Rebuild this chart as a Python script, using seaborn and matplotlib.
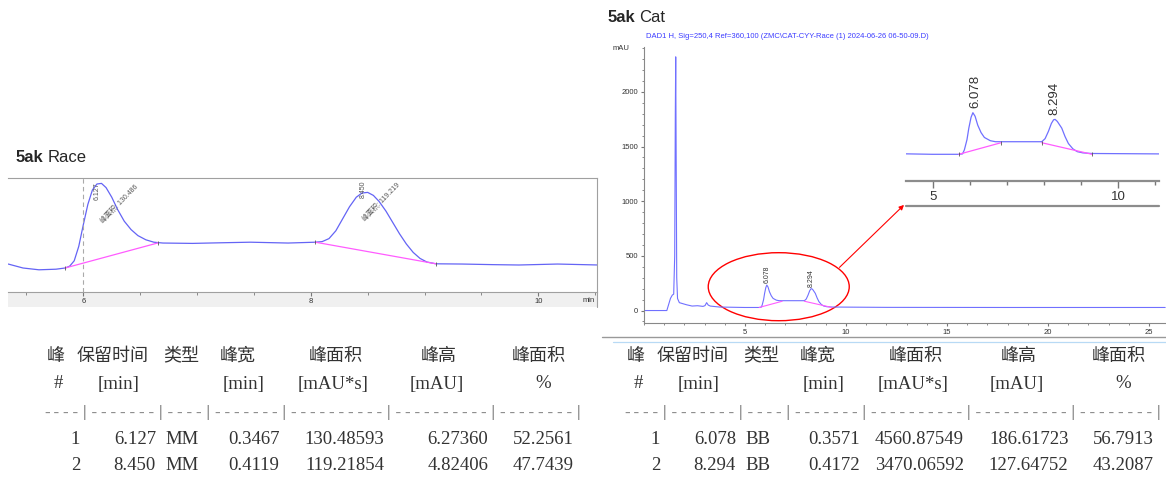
import matplotlib.pyplot as plt
import seaborn as sns
from matplotlib.patches import Ellipse, Rectangle, FancyArrowPatch
from matplotlib.lines import Line2D
from matplotlib.ticker import MultipleLocator

# Race trace (time in min, signal in mAU)
race_t = [5.34, 5.47, 5.61, 5.76, 5.84, 5.88, 5.92, 5.96, 6.00, 6.04, 6.08, 6.12, 6.16, 6.20,
          6.25, 6.30, 6.36, 6.42, 6.48, 6.55, 6.62, 6.70, 6.96, 7.20, 7.47, 7.80, 8.04, 8.10,
          8.16, 8.22, 8.28, 8.34, 8.40, 8.45, 8.50, 8.55, 8.60, 8.66, 8.72, 8.78, 8.84, 8.90,
          8.96, 9.02, 9.10, 9.33, 9.60, 9.83, 10.17, 10.53]
race_v = [0.33, 0.0, -0.15, -0.1, 0.0, 0.15, 0.6, 1.8, 3.6, 5.3, 6.5, 7.0, 7.05, 6.7,
          5.9, 4.9, 3.9, 3.2, 2.7, 2.35, 2.15, 2.08, 2.05, 2.1, 2.15, 2.08, 2.15, 2.2,
          2.45, 3.1, 4.1, 5.1, 5.9, 6.25, 6.3, 6.05, 5.55, 4.75, 3.8, 2.85, 2.0, 1.3,
          0.8, 0.5, 0.35, 0.33, 0.28, 0.25, 0.33, 0.25]
race_base1_t = [5.84, 6.66]
race_base1_v = [0.0, 2.1]
race_base2_t = [8.04, 9.10]
race_base2_v = [2.15, 0.35]

# Cat trace (time in min, signal in mAU)
cat_t = [0.0, 1.13, 1.31, 1.40, 1.47, 1.52, 1.55, 1.57, 1.59, 1.62, 1.66, 1.75, 2.1, 2.38,
         2.65, 2.92, 3.02, 3.10, 3.18, 3.28, 3.73, 4.98, 5.70, 5.80, 5.85, 5.92, 5.97, 6.03,
         6.08, 6.14, 6.21, 6.30, 6.39, 6.55, 6.69, 7.32, 7.94, 8.03, 8.12, 8.20, 8.26, 8.30,
         8.36, 8.48, 8.57, 8.66, 8.78, 8.90, 9.05, 9.29, 12.0, 18.0, 25.8]
cat_v = [0, 0, 111, 141, 150, 500, 1800, 2320, 1500, 300, 110, 72, 53, 41,
         44, 38, 45, 72, 50, 41, 32, 28, 28, 30, 50, 100, 157, 210,
         233, 215, 172, 135, 111, 95, 90, 90, 90, 105, 141, 180, 198, 200,
         190, 157, 115, 81, 55, 41, 35, 32, 29, 28, 28]
cat_base1_t = [5.70, 6.84]
cat_base1_v = [28, 85]
cat_base2_t = [7.94, 9.30]
cat_base2_v = [85, 28]

race_peak_rt = ['6.127', '8.450']
race_peak_area = ['130.486', '119.219']
cat_peak_rt = ['6.078', '8.294']

# tables
headers = ['峰', '保留时间', '类型', '峰宽', '峰面积', '峰高', '峰面积']
units = ['#', '[min]', '[min]', '[mAU*s]', '[mAU]', '%']
race_no = ['1', '2']
race_rt = ['6.127', '8.450']
race_type = ['MM', 'MM']
race_width = ['0.3467', '0.4119']
race_area = ['130.48593', '119.21854']
race_height = ['6.27360', '4.82406']
race_pct = ['52.2561', '47.7439']
cat_no = ['1', '2']
cat_rt = ['6.078', '8.294']
cat_type = ['BB', 'BB']
cat_width = ['0.3571', '0.4172']
cat_area = ['4560.87549', '3470.06592']
cat_height = ['186.61723', '127.64752']
cat_pct = ['56.7913', '43.2087']

sns.set_style('white')
plt.rcParams['font.family'] = ['Liberation Sans', 'Noto Sans CJK SC']

W, H = 1166, 479
fig = plt.figure(figsize=(W / 100, H / 100), dpi=100)


def box(x0, y0, x1, y1):
    return [x0 / W, 1 - y1 / H, (x1 - x0) / W, (y1 - y0) / H]


def fxy(x, y):
    return x / W, 1 - y / H


BLUE = '#6464f5'
BLUE2 = '#7070ff'
PINK = '#ff5cff'
GREY = '#a0a0a0'
TXT = '#333333'

# ---------------- left: Race chromatogram ----------------
fig.add_artist(Rectangle(fxy(8, 307), (597 - 8) / W, 15 / H, transform=fig.transFigure,
                         facecolor='#f0f0f0', edgecolor='none', zorder=-1))
fig.add_artist(Line2D([597 / W, 597 / W], [1 - 292 / H, 1 - 307 / H], color=GREY, lw=0.8))
ax1 = fig.add_axes(box(8, 178, 597, 292))
sns.lineplot(x=race_t, y=race_v, ax=ax1, color=BLUE, lw=0.9, sort=False, estimator=None)
for bt, bv in [(race_base1_t, race_base1_v), (race_base2_t, race_base2_v)]:
    ax1.plot(bt, bv, color=PINK, lw=0.9)
    ax1.plot(bt, bv, ls='', marker='|', ms=3, mew=0.6, color='#555555')
ax1.axvline(6.0, color='#aaaaaa', lw=0.8, ls=(0, (4, 3)))
ax1.set_xlim(5.338, 10.516)
ax1.set_ylim(-2.0, 7.5)
ax1.set_yticks([])
ax1.xaxis.set_major_locator(MultipleLocator(2))
ax1.xaxis.set_minor_locator(MultipleLocator(0.5))
ax1.tick_params(axis='x', which='both', direction='out', bottom=True, color='#777777',
                labelsize=5.5, labelcolor=TXT, pad=1.5)
ax1.tick_params(axis='x', which='major', length=3)
ax1.tick_params(axis='x', which='minor', length=2.2)
ax1.spines['left'].set_visible(False)
for s in ['top', 'right', 'bottom']:
    ax1.spines[s].set_color(GREY)
    ax1.spines[s].set_linewidth(0.8)
fig.text(595 / W, 1 - 301 / H, 'min', ha='right', va='center', fontsize=5.5, color=TXT)

for t, lab, bot, area_t, area_v, area in [(6.12, race_peak_rt[0], 5.67, 6.164, 3.83, race_peak_area[0]),
                                          (8.46, race_peak_rt[1], 5.83, 8.473, 4.0, race_peak_area[1])]:
    ax1.text(t, bot, lab, rotation=90, ha='center', va='bottom', fontsize=5, color='#555555')
    ax1.text(area_t, area_v, '峰面积: ' + area, rotation=46, rotation_mode='anchor',
             ha='left', va='center', fontsize=5, color='#555555')

# ---------------- right: Cat chromatogram ----------------
ax2 = fig.add_axes(box(644, 47, 1166, 323))
sns.lineplot(x=cat_t, y=cat_v, ax=ax2, color=BLUE2, lw=0.8, sort=False, estimator=None)
for bt, bv in [(cat_base1_t, cat_base1_v), (cat_base2_t, cat_base2_v)]:
    ax2.plot(bt, bv, color=PINK, lw=0.8)
ax2.set_xlim(0, 25.84)
ax2.set_ylim(-114, 2410)
ax2.set_xticks([5, 10, 15, 20, 25])
ax2.xaxis.set_minor_locator(MultipleLocator(1))
ax2.set_yticks([0, 500, 1000, 1500, 2000])
ax2.yaxis.set_minor_locator(MultipleLocator(100))
ax2.tick_params(which='both', direction='out', bottom=True, left=True, color='#777777',
                labelsize=5.5, labelcolor=TXT, pad=2)
ax2.tick_params(which='major', length=2.5)
ax2.tick_params(which='minor', length=1.5)
for s in ['top', 'right']:
    ax2.spines[s].set_visible(False)
for s in ['left', 'bottom']:
    ax2.spines[s].set_color('#888888')
    ax2.spines[s].set_linewidth(0.8)
ax2.text(-0.7, 2400, 'mAU', ha='right', va='center', fontsize=5.5, color=TXT)
ax2.text(6.08, 251, cat_peak_rt[0], rotation=90, ha='center', va='bottom', fontsize=5, color=TXT)
ax2.text(8.27, 215, cat_peak_rt[1], rotation=90, ha='center', va='bottom', fontsize=5, color=TXT)
ax2.add_patch(Ellipse((6.67, 218), width=6.98, height=622, fill=False, edgecolor='red', lw=1))

fig.add_artist(Line2D([602 / W, 1], [1 - 336.7 / H] * 2, color='#999999', lw=1))
fig.add_artist(Line2D([613 / W, 1], [1 - 341.5 / H] * 2, color='#b8daf5', lw=0.9))

# inset zoom
ax3 = fig.add_axes(box(906, 40, 1159, 181))
ax3.set_facecolor('none')
sns.lineplot(x=cat_t, y=cat_v, ax=ax3, color=BLUE2, lw=0.9, sort=False, estimator=None)
for bt, bv in [(cat_base1_t, cat_base1_v), (cat_base2_t, cat_base2_v)]:
    ax3.plot(bt, bv, color=PINK, lw=0.9)
    ax3.plot(bt, bv, ls='', marker='|', ms=3, mew=0.6, color='#555555')
ax3.set_xlim(4.273, 11.107)
ax3.set_ylim(-103.5, 591)
ax3.set_yticks([])
ax3.set_xticks([5, 10])
ax3.xaxis.set_minor_locator(MultipleLocator(1))
ax3.tick_params(axis='x', which='both', direction='out', bottom=True, color='#777777',
                labelsize=9.5, labelcolor=TXT, pad=2.5, width=1)
ax3.tick_params(axis='x', which='major', length=5)
ax3.tick_params(axis='x', which='minor', length=3)
for s in ['top', 'right', 'left']:
    ax3.spines[s].set_visible(False)
ax3.spines['bottom'].set_color('#8c8c8c')
ax3.spines['bottom'].set_linewidth(1.6)
ax3.text(6.14, 256, cat_peak_rt[0], rotation=90, ha='center', va='bottom', fontsize=9.5, color=TXT)
ax3.text(8.29, 222, cat_peak_rt[1], rotation=90, ha='center', va='bottom', fontsize=9.5, color=TXT)
fig.add_artist(Line2D([906 / W, 1159 / W], [1 - 205.7 / H] * 2, color='#8c8c8c', lw=1.6))

fig.add_artist(FancyArrowPatch(fxy(837.5, 269.3), fxy(906, 203), transform=fig.transFigure,
                               arrowstyle='-|>', mutation_scale=7, color='red', lw=0.8))

# ---------------- titles ----------------
renderer = fig.canvas.get_renderer()
for x, y, word in [(16, 157, 'Race'), (608, 18, 'Cat')]:
    t1 = fig.text(x / W, 1 - y / H, '5ak', fontsize=12, weight='bold', va='center')
    bb = t1.get_window_extent(renderer)
    fig.text(bb.x1 / W + 4 / W, 1 - y / H, word, fontsize=12, va='center')
fig.text(646 / W, 1 - 36 / H,
         'DAD1 H, Sig=250,4 Ref=360,100 (ZMC\\CAT-CYY-Race (1) 2024-06-26 06-50-09.D)',
         fontsize=5.5, color='#3c3cff', va='center')

# ---------------- tables ----------------
hdr_rel = [14, 71, 139, 196, 294, 397, 497]
unit_rel = [16, 77, 202, 291, 395, 501]
val_rel = [38, 114, 123.5, 237.5, 342, 446.5, 532]
row_y = [356, 384, 412, 439, 466]
CJK = ['Noto Sans CJK SC', 'DejaVu Sans']
SERIF = ['Liberation Serif', 'Noto Sans CJK SC']
dash_row = '|'.join('-' * n for n in [4, 7, 4, 7, 10, 10, 8]) + '|'


def draw_table(x0, cols):
    for h, xr in zip(headers, hdr_rel):
        fig.text((x0 + xr) / W, 1 - row_y[0] / H, h, family=CJK, fontsize=13,
                 ha='center', va='center', color=TXT)
    for u, xr in zip(units, unit_rel):
        fig.text((x0 + xr) / W, 1 - row_y[1] / H, u, family=SERIF, fontsize=13.5,
                 ha='center', va='center', color=TXT)
    fig.text(x0 / W, 1 - row_y[2] / H, dash_row, family='Liberation Mono', fontsize=11.4,
             ha='left', va='center', color='#8a8a8a')
    for i in range(2):
        for j, (col, xr) in enumerate(zip(cols, val_rel)):
            fig.text((x0 + xr) / W, 1 - row_y[3 + i] / H, col[i], family=SERIF, fontsize=13.5,
                     ha='left' if j == 2 else 'right', va='center', color=TXT)


draw_table(42, [race_no, race_rt, race_type, race_width, race_area, race_height, race_pct])
draw_table(622, [cat_no, cat_rt, cat_type, cat_width, cat_area, cat_height, cat_pct])

fig.savefig('out.png', dpi=100)
